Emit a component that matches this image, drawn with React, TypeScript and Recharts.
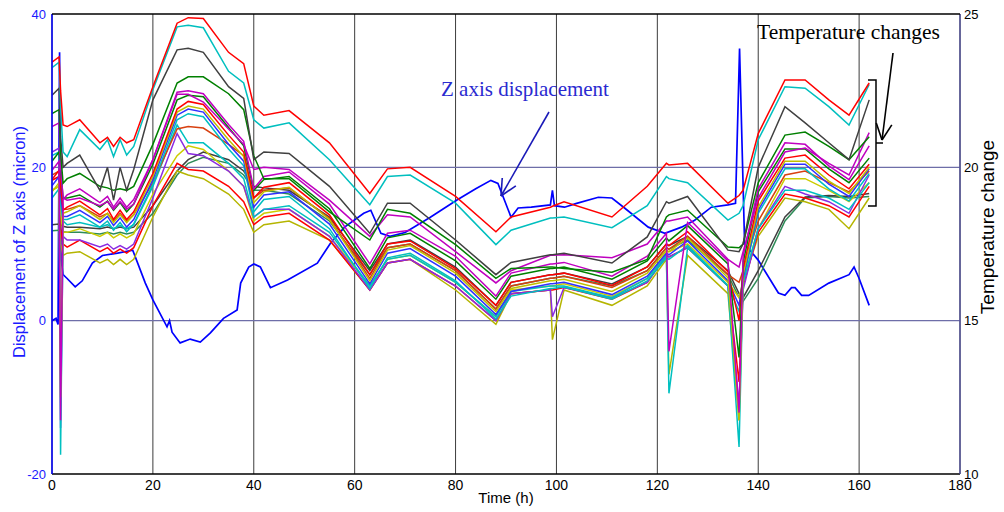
import { LineChart, Line, XAxis, YAxis, CartesianGrid, ReferenceLine } from "recharts";

// time grid shared by the temperature channels (h)
const tempTimes = [0, 1.4, 1.7, 2.2, 3, 5.5, 9.5, 11, 12.2, 13.5, 14.8, 16.2, 20, 24.8, 27, 30, 35, 38, 40, 42, 47, 55, 63, 66.5, 71, 80, 88, 91, 98.8, 99.2, 101.5, 111, 118, 121.8, 122.3, 126, 134, 136.2, 137, 140, 145.3, 149.3, 154, 158, 162];

// temperature channels (deg C, right axis)
const tempRedTop = [23.43, 23.6, 22.5, 21.38, 21.33, 21.55, 20.8, 20.98, 20.68, 20.98, 20.8, 20.9, 22.63, 24.7, 24.88, 24.85, 23.75, 23.38, 22, 21.7, 21.85, 20.8, 19.15, 19.95, 20, 19.05, 17.9, 18.38, 18.7, 18.73, 18.88, 18.38, 19.38, 20.13, 20.08, 20.13, 18.83, 19.08, 19.25, 21.1, 22.85, 22.85, 22.2, 21.7, 22.75];
const tempCyanTop = [23.25, 23.43, 22, 20.5, 20.35, 21.23, 20.58, 20.9, 20.35, 20.9, 20.4, 20.68, 22.53, 24.58, 24.63, 24.55, 23.13, 22.75, 21.55, 21.28, 21.45, 20.25, 18.78, 19.7, 19.75, 18.83, 17.48, 17.95, 18.35, 18.35, 18.38, 18.03, 18.75, 19.7, 19.63, 19.5, 18.28, 18.5, 18.75, 20.9, 22.63, 22.58, 21.98, 21.38, 22.7];
const tempGrayTop = [22.35, 22.58, 21, 20, 20.13, 20.4, 19.25, 20, 18.93, 20, 19.25, 19.93, 22.2, 23.83, 23.88, 23.75, 22.63, 22.25, 20.25, 20.5, 20.45, 19.38, 17.85, 18.83, 18.83, 17.63, 16.5, 16.9, 17.15, 17.15, 17.2, 16.88, 17.73, 18.88, 18.83, 19.05, 17.3, 17.25, 17.5, 20, 21.98, 21.45, 20.8, 20.25, 22.2];
const tempGreenTop = [21.75, 21.88, 20.5, 19.48, 19.63, 19.8, 19.38, 19.33, 19.25, 19.3, 19.25, 19.38, 20.75, 22.75, 22.95, 22.95, 22.4, 21.88, 20.38, 19.63, 19.63, 18.55, 17.63, 18.63, 18.5, 17.48, 16.38, 16.7, 16.75, 16.75, 16.7, 16.58, 17, 18.38, 18.45, 18.6, 17.4, 17.38, 17.5, 19.5, 21.05, 21.15, 20.68, 20.25, 21];
const tempMagentaTop = [21.33, 21.45, 20, 19, 18.93, 19, 18.75, 18.88, 18.63, 18.88, 18.63, 18.8, 20.25, 22.38, 22.38, 22.13, 21.25, 20.75, 19.93, 20, 19.93, 18.93, 17.75, 18.45, 18.38, 17.25, 16.23, 16.63, 17.13, 17.13, 17.15, 17.05, 17.5, 18.25, 18.25, 18.38, 17, 16.75, 17.25, 19, 20.5, 20.63, 20.13, 19.75, 21.13];
const tempMagenta = [19.9, 20.2, 11.75, 18.95, 19.1, 19.3, 18.85, 19.05, 18.7, 19, 18.7, 18.95, 20.25, 22.45, 22.5, 22.4, 21.4, 20.85, 19.3, 19.7, 19.85, 18.8, 16.85, 17.85, 17.95, 17.1, 15.8, 16.55, 16.85, 16.85, 16.9, 16.45, 17.1, 17.85, 14, 18.2, 16.95, 12, 17.1, 19.3, 20.8, 20.75, 20.05, 19.6, 20.7];
const tempGreen = [20.2, 20.5, 20, 19, 19, 19.1, 18.7, 18.9, 18.6, 18.85, 18.55, 18.8, 20.1, 22.2, 22.35, 22.3, 21.3, 20.7, 19.25, 19.6, 19.7, 18.65, 16.7, 17.7, 17.85, 16.95, 15.7, 16.45, 16.7, 16.7, 16.75, 16.35, 16.95, 17.7, 17.6, 18.1, 16.85, 13.8, 16.9, 19.2, 20.6, 20.6, 19.95, 19.5, 20.3];
const tempRed = [19.6, 19.9, 19.4, 18.6, 18.7, 18.9, 18.45, 18.65, 18.3, 18.6, 18.3, 18.55, 19.8, 21.9, 22.15, 22.05, 21.05, 20.5, 19, 19.35, 19.5, 18.45, 16.5, 17.5, 17.6, 16.7, 15.5, 16.25, 16.5, 16.5, 16.55, 16.15, 16.75, 17.5, 17.45, 17.9, 16.6, 15, 16.7, 18.9, 20.3, 20.4, 19.75, 19.3, 20.1];
const tempYellow = [19.2, 19.5, 12.5, 18.5, 18.55, 18.75, 18.3, 18.5, 18.2, 18.45, 18.2, 18.45, 19.7, 21.8, 22, 21.9, 20.9, 20.35, 18.85, 19.2, 19.35, 18.3, 16.3, 17.3, 17.45, 16.55, 15.3, 16.05, 16.3, 16.3, 16.35, 15.95, 16.55, 17.3, 17.25, 17.7, 16.4, 11.75, 16.5, 18.7, 20.2, 20.2, 19.55, 19.15, 20];
const tempBlue = [19.4, 19.7, 19.2, 18.4, 18.4, 18.6, 18.2, 18.4, 18.1, 18.35, 18.05, 18.3, 19.6, 21.7, 21.9, 21.8, 20.75, 20.2, 18.7, 19.1, 19.2, 18.15, 16.2, 17.2, 17.35, 16.45, 15.2, 15.95, 16.2, 16.2, 16.25, 15.85, 16.45, 17.2, 17.15, 17.6, 16.3, 15.5, 16.4, 18.6, 20.1, 20.1, 19.45, 19.05, 19.95];
const tempCyan = [19, 19.3, 18.8, 18.3, 18.3, 18.45, 18.05, 18.25, 17.95, 18.2, 17.9, 18.15, 19.45, 21.55, 21.75, 21.65, 20.6, 20.05, 18.55, 18.95, 19.05, 18, 16.05, 17.05, 17.2, 16.3, 15.05, 15.8, 16.05, 16.05, 16.1, 15.7, 16.3, 17.05, 17, 17.45, 16.15, 15.3, 16.3, 18.5, 19.95, 19.95, 19.3, 18.9, 19.8];
const tempOrange = [19.75, 19.88, 19.5, 18.63, 18.63, 18.75, 18.38, 18.5, 18.25, 18.5, 18.25, 18.45, 19.5, 21.25, 21.33, 21.28, 20.75, 20.38, 19, 19.25, 19.33, 18.33, 16.38, 17.38, 17.5, 16.63, 15.38, 16.13, 16.38, 16.38, 16.45, 16.08, 16.63, 17.38, 17.33, 17.75, 16.5, 16.25, 16.63, 18.25, 19.75, 19.88, 19.5, 19.2, 19.88];
const tempCyanLow = [20.38, 20.5, 10.63, 18.25, 18.13, 18.2, 18.05, 18.13, 18, 18.1, 18, 18.13, 19.38, 21.38, 20.8, 20.8, 20.13, 19.63, 18.38, 18.63, 18.75, 17.88, 16.13, 17, 17.13, 16.25, 15.13, 15.95, 16.13, 16.13, 16.13, 15.75, 16.38, 17.13, 12.63, 17.38, 16.13, 10.88, 16.25, 18, 19.25, 19.25, 19, 18.63, 19.5];
const tempPurple = [20.5, 20.63, 11.5, 17.75, 17.63, 17.63, 17.4, 17.5, 17.33, 17.45, 17.33, 17.5, 19, 21.1, 20.45, 20.38, 19.88, 19.38, 18.38, 18.63, 18.63, 17.75, 16, 16.88, 17, 16.13, 15, 15.88, 16, 15.13, 16.08, 15.75, 16.25, 17.13, 17.08, 17.38, 16.13, 12.25, 16, 18, 19.38, 19.13, 18.88, 18.5, 19.75];
const tempYellowLow = [19.25, 19.38, 18.5, 17.88, 17.88, 18, 17.75, 17.88, 17.7, 17.83, 17.7, 17.83, 19.13, 20.38, 20.7, 20.58, 19.88, 19.38, 18.25, 18.5, 18.63, 17.75, 16.13, 17, 17.13, 16.25, 15.13, 16, 16.13, 16.13, 16.2, 15.8, 16.38, 17.25, 17.25, 17.5, 16.25, 15.75, 16.25, 18, 19.63, 19.63, 19.25, 18.88, 19.5];
const tempRedLow = [19.58, 19.7, 18, 17.5, 17.4, 17.63, 17.25, 17.38, 17.2, 17.33, 17.2, 17.38, 18.75, 20.13, 19.93, 19.88, 19.38, 18.88, 18.13, 18.38, 18.5, 17.63, 16, 16.88, 17, 16.13, 15, 15.88, 16, 16, 16.08, 15.7, 16.25, 17.13, 17.08, 17.38, 16.13, 13, 16.13, 17.88, 19.13, 19, 18.75, 18.38, 19.38];
const tempOlive = [19.25, 19.38, 17.5, 17.13, 17.2, 17.25, 16.88, 17, 16.83, 17, 16.83, 17, 18.38, 19.88, 19.75, 19.63, 19.13, 18.63, 17.88, 18.13, 18.25, 17.63, 16, 16.88, 17, 16, 14.88, 15.88, 16, 14.38, 16, 15.5, 16.13, 17, 13.25, 17.13, 15.88, 11.75, 16.25, 17.75, 19, 18.88, 18.63, 18, 19];
const tempSeaGreen = [17.93, 17.95, 17.95, 17.9, 17.88, 17.88, 17.83, 17.88, 17.83, 17.88, 17.83, 17.88, 18.5, 19.75, 20.13, 20.33, 20.13, 19.75, 19.25, 19.25, 19.13, 18.25, 16.5, 17.38, 17.5, 16.63, 15.38, 16.13, 16.38, 16.38, 16.45, 16.13, 16.63, 17.38, 17.33, 17.63, 16.5, 15.75, 15.63, 16.38, 18.25, 19, 19.05, 19, 19.05];
const tempGrayLow = [18.13, 18.15, 18.13, 18.08, 18.05, 18.05, 18, 18.05, 18, 18.05, 18, 18.05, 18.75, 19.88, 20.25, 20.5, 20.25, 19.88, 19.38, 19.33, 19.25, 18.38, 16.63, 17.5, 17.63, 16.75, 15.5, 16.25, 16.5, 16.5, 16.55, 16.2, 16.75, 17.5, 17.45, 17.75, 16.63, 15.88, 15.75, 16.63, 18.38, 19.03, 19.08, 19.05, 19.15];

// Z axis displacement (micron, left axis)
const zTimes = [0, 0.8, 1.2, 1.5, 1.8, 2.2, 3, 4.6, 6, 8, 10, 13, 16, 18.5, 20, 22.8, 23.3, 23.8, 25.4, 27.4, 29.4, 31.4, 34, 36.7, 37.4, 39, 40, 41.3, 43.3, 46.7, 52.6, 55.2, 58, 61.8, 63.2, 65.2, 67, 70, 75, 80.2, 84, 87, 88.4, 89.7, 91, 92.4, 95, 98.8, 99.2, 99.6, 101.6, 104, 108.3, 111, 113.5, 118.2, 121.5, 124.8, 127.4, 130.7, 134, 135.5, 136.3, 137.3, 140, 144, 145.3, 146.6, 147.3, 148.6, 150, 154, 158, 159, 160, 162];
const zValues = [0, 0.3, -0.5, 35, 8, 6, 5.5, 4.4, 5.2, 7.5, 8.5, 8.8, 9.2, 4.9, 2.7, -0.8, 0, -1.5, -2.9, -2.4, -2.8, -1.6, 0.3, 1.4, 4.9, 7, 7.4, 7, 4.3, 5.3, 7.5, 10.1, 12.2, 14, 14.4, 11.4, 11, 11.5, 13.5, 15.7, 17.2, 18.3, 17.9, 15.7, 13.5, 14.7, 14.8, 15.1, 17, 15, 14.8, 15.3, 16.1, 16, 14.7, 12.2, 11.4, 12.2, 13.1, 14.8, 15.1, 15.3, 35.5, 10, 7.9, 3.6, 3.3, 4.3, 4.3, 3.3, 3.3, 4.9, 6, 7, 5.5, 2];

const xTicks = [0, 20, 40, 60, 80, 100, 120, 140, 160, 180];
const leftTicks = [-20, 0, 20, 40];
const rightTicks = [10, 15, 20, 25];

// drawn in this order, later ones on top
const tempSeries = [
    { name: "seaGreen", color: "#2e8b57", values: tempSeaGreen },
    { name: "grayLow", color: "#404040", values: tempGrayLow },
    { name: "olive", color: "#b5b500", values: tempOlive },
    { name: "redLow", color: "#ff0000", values: tempRedLow },
    { name: "yellowLow", color: "#cccc00", values: tempYellowLow },
    { name: "purple", color: "#8a2be2", values: tempPurple },
    { name: "cyanLow", color: "#00c0c0", values: tempCyanLow },
    { name: "orange", color: "#d84010", values: tempOrange },
    { name: "cyan", color: "#00bfbf", values: tempCyan },
    { name: "blue", color: "#3030ff", values: tempBlue },
    { name: "yellow", color: "#bfbf00", values: tempYellow },
    { name: "red", color: "#ff0000", values: tempRed },
    { name: "green", color: "#008000", values: tempGreen },
    { name: "magenta", color: "#c000c0", values: tempMagenta },
    { name: "magentaTop", color: "#bf00bf", values: tempMagentaTop },
    { name: "greenTop", color: "#008000", values: tempGreenTop },
    { name: "grayTop", color: "#404040", values: tempGrayTop },
    { name: "cyanTop", color: "#00bfbf", values: tempCyanTop },
    { name: "redTop", color: "#ff0000", values: tempRedTop },
];

const sans = "'Liberation Sans', Arial, sans-serif";
const serif = "'Liberation Serif', 'Times New Roman', serif";

function Arrow({ x1, y1, x2, y2, color }: { x1: number; y1: number; x2: number; y2: number; color: string }) {
    const a = Math.atan2(y2 - y1, x2 - x1);
    const len = 18;
    const w1 = { x: x2 - len * Math.cos(a - 0.45), y: y2 - len * Math.sin(a - 0.45) };
    const w2 = { x: x2 - len * Math.cos(a + 0.45), y: y2 - len * Math.sin(a + 0.45) };
    return (
        <g stroke={color} strokeWidth={1.6} fill="none">
            <line x1={x1} y1={y1} x2={x2} y2={y2} />
            <line x1={x2} y1={y2} x2={w1.x} y2={w1.y} />
            <line x1={x2} y1={y2} x2={w2.x} y2={w2.y} />
        </g>
    );
}

export default function App() {
    const zData = zTimes.map((t, i) => ({ t, z: zValues[i] }));

    return (
        <div style={{ position: "absolute", left: 0, top: 0, width: 1004, height: 512, background: "#fff" }}>
            <LineChart width={1004} height={512} margin={{ top: 14, right: 4, bottom: 8, left: 12 }}>
                <CartesianGrid yAxisId="left" horizontal={false} stroke="#3c3c3c" strokeWidth={1} />
                <XAxis
                    type="number"
                    dataKey="t"
                    domain={[0, 180]}
                    ticks={xTicks}
                    allowDataOverflow
                    height={30}
                    tickSize={4}
                    tickMargin={2}
                    tickLine={false}
                    axisLine={{ stroke: "#000", strokeWidth: 1.5 }}
                    tick={{ fontSize: 14, fill: "#000", fontFamily: sans }}
                />
                <YAxis
                    yAxisId="left"
                    domain={[-20, 40]}
                    ticks={leftTicks}
                    allowDataOverflow
                    width={40}
                    tickSize={4}
                    tickMargin={2}
                    tickLine={false}
                    axisLine={{ stroke: "#0000ff", strokeWidth: 1.5 }}
                    tick={{ fontSize: 13, fill: "#1a1aff", fontFamily: sans }}
                />
                <YAxis
                    yAxisId="right"
                    orientation="right"
                    domain={[10, 25]}
                    ticks={rightTicks}
                    allowDataOverflow
                    width={40}
                    tickSize={2}
                    tickMargin={2}
                    tickLine={false}
                    axisLine={{ stroke: "#4a4a9a", strokeWidth: 1.3 }}
                    tick={{ fontSize: 13, fill: "#000", fontFamily: sans }}
                />
                <ReferenceLine yAxisId="left" y={0} stroke="#6e6ea8" strokeWidth={1.2} />
                <ReferenceLine yAxisId="left" y={20} stroke="#6e6ea8" strokeWidth={1.2} />

                <Line
                    yAxisId="left"
                    data={zData}
                    dataKey="z"
                    type="linear"
                    stroke="#0000ff"
                    strokeWidth={1.7}
                    dot={false}
                    isAnimationActive={false}
                />
                {tempSeries.map((s) => (
                    <Line
                        key={s.name}
                        name={s.name}
                        yAxisId="right"
                        data={tempTimes.map((t, i) => ({ t, v: s.values[i] }))}
                        dataKey="v"
                        type="linear"
                        stroke={s.color}
                        strokeWidth={1.5}
                        dot={false}
                        isAnimationActive={false}
                    />
                ))}
            </LineChart>

            {/* frame, axis titles and annotations */}
            <svg width={1004} height={512} style={{ position: "absolute", left: 0, top: 0, pointerEvents: "none" }}>
                <line x1={52} y1={14} x2={960} y2={14} stroke="#000" strokeWidth={1.5} />
                <text
                    transform="translate(25,242) rotate(-90)"
                    textAnchor="middle"
                    fontSize={16.5}
                    fill="#1a1aff"
                    fontFamily={sans}
                >
                    Displacement of Z axis (micron)
                </text>
                <text
                    transform="translate(994,227) rotate(-90)"
                    textAnchor="middle"
                    fontSize={19}
                    fill="#000"
                    fontFamily={sans}
                >
                    Temperature change
                </text>
                <text x={506} y={503} textAnchor="middle" fontSize={15} fill="#000" fontFamily={sans}>
                    Time (h)
                </text>

                <text x={441} y={96} fontSize={21} fill="#2a2ad0" fontFamily={serif}>
                    Z axis displacement
                </text>
                <Arrow x1={549} y1={112} x2={501} y2={196} color="#1a1ab8" />

                <text x={757} y={39} fontSize={21.5} fill="#000" fontFamily={serif}>
                    Temperature changes
                </text>
                <Arrow x1={893} y1={53} x2={882} y2={140} color="#000" />
                <path d="M868 80 L876 80 L876 206 L868 206 M876 143 L883 143" stroke="#000" strokeWidth={1.5} fill="none" />
            </svg>
        </div>
    );
}
